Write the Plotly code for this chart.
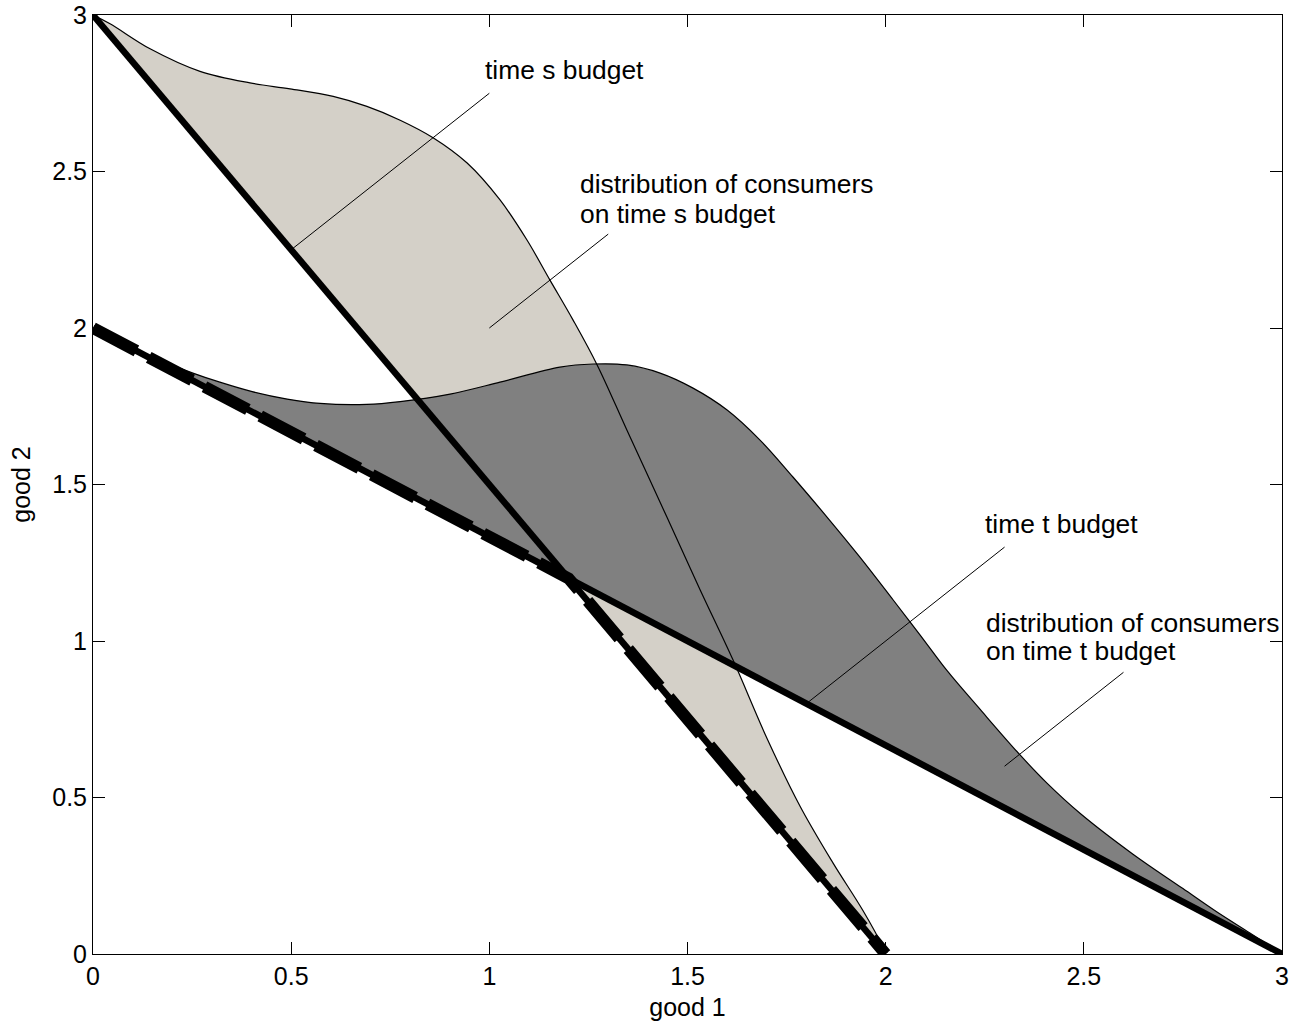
import plotly.graph_objects as go

# ---- data ----
s_budget_x = [0, 2]
s_budget_y = [3, 0]
t_budget_x = [0, 3]
t_budget_y = [2, 0]
envelope_x = [0, 1.2, 2]
envelope_y = [2, 1.2, 0]

dist_s_x = [0.0, 0.043, 0.144, 0.270, 0.396, 0.497, 0.606, 0.691, 0.775, 0.858,
            0.944, 1.027, 1.095, 1.153, 1.211, 1.272, 1.347, 1.448, 1.532, 1.615,
            1.701, 1.784, 1.867, 1.943, 1.993, 2.0]
dist_s_y = [3.0, 2.972, 2.892, 2.820, 2.783, 2.764, 2.740, 2.708, 2.664, 2.608,
            2.527, 2.409, 2.281, 2.153, 2.026, 1.882, 1.674, 1.396, 1.163, 0.939,
            0.688, 0.472, 0.291, 0.138, 0.022, 0.0]

dist_t_x = [0.0, 0.119, 0.252, 0.320, 0.404, 0.490, 0.573, 0.691, 0.775, 0.901,
            1.027, 1.178, 1.262, 1.347, 1.431, 1.514, 1.600, 1.683, 1.766, 1.852,
            1.935, 2.019, 2.087, 2.155, 2.238, 2.339, 2.407, 2.491, 2.624, 2.750,
            2.836, 2.919, 3.0]
dist_t_y = [2.0, 1.923, 1.856, 1.827, 1.796, 1.773, 1.759, 1.756, 1.765, 1.789,
            1.827, 1.875, 1.885, 1.882, 1.856, 1.808, 1.738, 1.642, 1.524, 1.396,
            1.268, 1.131, 1.019, 0.905, 0.782, 0.636, 0.546, 0.449, 0.319, 0.209,
            0.134, 0.067, 0.0]

ptr_time_s_x = [0.5, 1.0]
ptr_time_s_y = [2.25, 2.75]
ptr_dist_s_x = [1.0, 1.3]
ptr_dist_s_y = [2.0, 2.3]
ptr_time_t_x = [1.8, 2.3]
ptr_time_t_y = [0.8, 1.3]
ptr_dist_t_x = [2.3, 2.6]
ptr_dist_t_y = [0.6, 0.9]

tick_vals = [0, 0.5, 1, 1.5, 2, 2.5, 3]
tick_text = ["0", "0.5", "1", "1.5", "2", "2.5", "3"]

FONT = "Liberation Sans, Arial, Helvetica, sans-serif"
LIGHT = "#d4d0c8"
DARK = "#808080"
SMOOTH = 1.0

fig = go.Figure()

# filled distributions
fig.add_trace(go.Scatter(x=dist_s_x, y=dist_s_y, mode="lines", fill="toself",
                         fillcolor=LIGHT,
                         line=dict(width=0, color="rgba(0,0,0,0)", shape="spline", smoothing=SMOOTH),
                         hoverinfo="skip"))
fig.add_trace(go.Scatter(x=dist_t_x, y=dist_t_y, mode="lines", fill="toself",
                         fillcolor=DARK,
                         line=dict(width=0, color="rgba(0,0,0,0)", shape="spline", smoothing=SMOOTH),
                         hoverinfo="skip"))

# outlines of distributions
for xs, ys in [(dist_s_x, dist_s_y), (dist_t_x, dist_t_y)]:
    fig.add_trace(go.Scatter(x=xs, y=ys, mode="lines",
                             line=dict(color="black", width=1.2, shape="spline", smoothing=SMOOTH)))

# pointer lines
for xs, ys in [(ptr_time_s_x, ptr_time_s_y), (ptr_dist_s_x, ptr_dist_s_y),
               (ptr_time_t_x, ptr_time_t_y), (ptr_dist_t_x, ptr_dist_t_y)]:
    fig.add_trace(go.Scatter(x=xs, y=ys, mode="lines", line=dict(color="black", width=1)))

# budget lines
fig.add_trace(go.Scatter(x=s_budget_x, y=s_budget_y, mode="lines",
                         line=dict(color="black", width=6.5)))
fig.add_trace(go.Scatter(x=t_budget_x, y=t_budget_y, mode="lines",
                         line=dict(color="black", width=6.5)))
fig.add_trace(go.Scatter(x=envelope_x, y=envelope_y, mode="lines",
                         line=dict(color="black", width=12, dash="49px,14px")))

annots = [
    dict(x=0.985, y=2.825, text="time s budget"),
    dict(x=1.224, y=2.460, text="distribution of consumers"),
    dict(x=1.224, y=2.364, text="on time s budget"),
    dict(x=2.246, y=1.374, text="time t budget"),
    dict(x=2.248, y=1.0575, text="distribution of consumers"),
    dict(x=2.248, y=0.968, text="on time t budget"),
]
for a in annots:
    a.update(xref="x", yref="y", xanchor="left", yanchor="middle", showarrow=False,
             align="left", font=dict(family=FONT, size=26.4, color="black"))

axis_common = dict(range=[0, 3], tickvals=tick_vals, ticktext=tick_text,
                   ticks="inside", ticklen=12, tickwidth=1, tickcolor="black",
                   showline=True, linecolor="black", linewidth=1, mirror="ticks",
                   showgrid=False, zeroline=False, automargin=False,
                   tickfont=dict(family=FONT, size=25, color="black"))

fig.update_layout(
    width=1301, height=1028,
    margin=dict(l=93, r=19, t=15, b=74),
    paper_bgcolor="white", plot_bgcolor="white",
    showlegend=False,
    font=dict(family=FONT, size=25, color="black"),
    annotations=annots,
    xaxis=dict(**axis_common, title=dict(text="good 1", standoff=9,
                                         font=dict(family=FONT, size=25, color="black"))),
    yaxis=dict(**axis_common, title=dict(text="good 2", standoff=14,
                                         font=dict(family=FONT, size=25, color="black"))),
)

fig.write_html("out.html")
